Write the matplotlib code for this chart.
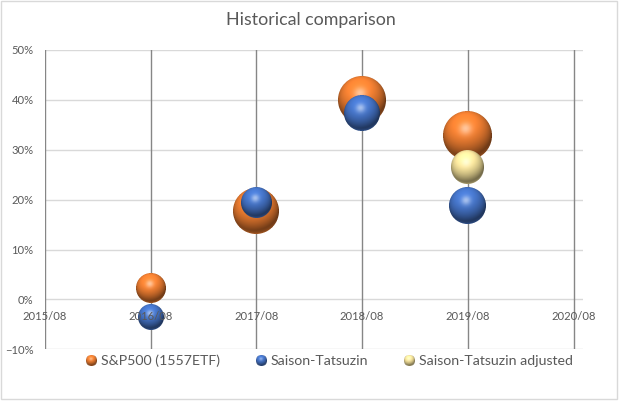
import numpy as np
import pandas as pd
import matplotlib
matplotlib.use('Agg')
import matplotlib.pyplot as plt
import matplotlib.dates as mdates
from matplotlib.colors import to_rgb
from matplotlib.offsetbox import OffsetImage, AnnotationBbox
from matplotlib.legend_handler import HandlerBase
from matplotlib.image import BboxImage
from matplotlib.transforms import Bbox, TransformedBbox
from matplotlib.lines import Line2D
from matplotlib.patches import Rectangle
from matplotlib.ticker import PercentFormatter

plt.rcParams['font.family'] = ['Lato', 'DejaVu Sans']

# data
dates = ['2016-08-01', '2017-08-01', '2018-08-01', '2019-08-01']
sp500 = [2.2, 17.8, 39.9, 32.9]          # % return
sp500_size = [230, 540, 580, 600]        # bubble size
saison = [-3.5, 19.5, 37.4, 18.8]
saison_size = [170, 237, 320, 350]
adj_dates = ['2019-08-01']
saison_adj = [26.4]
saison_adj_size = [279]

tick_dates = ['2015-08-01', '2016-08-01', '2017-08-01', '2018-08-01', '2019-08-01', '2020-08-01']
y_ticks = [-10, 0, 10, 20, 30, 40, 50]

series = [
    ('S&P500 (1557ETF)', dates, sp500, sp500_size, '#ED7D31'),
    ('Saison-Tatsuzin', dates, saison, saison_size, '#4472C4'),
    ('Saison-Tatsuzin adjusted', adj_dates, saison_adj, saison_adj_size, '#F4E19A'),
]


def sphere(diam, color, ss=4):
    n = max(int(round(diam)), 2)
    N = n * ss
    yy, xx = np.mgrid[0:N, 0:N]
    x = (xx + 0.5) / N * 2 - 1
    y = 1 - (yy + 0.5) / N * 2
    d2 = x**2 + y**2
    inside = (d2 <= 1).astype(float)
    z = np.sqrt(np.clip(1 - d2, 0, 1))
    L = np.array([-0.15, 0.55, 0.82])
    L = L / np.linalg.norm(L)
    diff = np.clip(x * L[0] + y * L[1] + z * L[2], 0, 1)
    H = L + np.array([0, 0, 1.0])
    H = H / np.linalg.norm(H)
    spec = np.clip(x * H[0] + y * H[1] + z * H[2], 0, 1) ** 30
    base = np.array(to_rgb(color))
    rgb = base[None, None, :] * (0.45 + 0.7 * diff)[..., None]
    rgb = rgb + (1 - rgb) * (0.5 * spec)[..., None]
    rim = np.clip(-y, 0, 1) ** 2 * (1 - z) ** 2
    rgb = rgb + (base * 1.05 - rgb) * (0.6 * rim)[..., None]
    rgb = np.clip(rgb, 0, 1)
    rgba = np.dstack([rgb * inside[..., None], inside])
    rgba = rgba.reshape(n, ss, n, ss, 4).mean(axis=(1, 3))
    a = rgba[..., 3:4]
    rgb = np.where(a > 0, rgba[..., :3] / np.maximum(a, 1e-6), 0)
    return np.dstack([np.clip(rgb, 0, 1), a])


class SphereHandler(HandlerBase):
    def __init__(self, color, diam_pt):
        super().__init__()
        self.color = color
        self.diam_pt = diam_pt

    def create_artists(self, legend, orig_handle, xdescent, ydescent,
                       width, height, fontsize, trans):
        cx = width / 2 - xdescent
        cy = height / 2 - ydescent
        d = self.diam_pt
        bb = TransformedBbox(Bbox.from_bounds(cx - d / 2, cy - d / 2, d, d), trans)
        im = BboxImage(bb, interpolation='antialiased')
        im.set_data(sphere(d / 0.72, self.color))
        return [im]


fig = plt.figure(figsize=(6.25, 4.11), dpi=100)
ax = fig.add_axes([44.7 / 625, 1 - 349.3 / 411, (582.7 - 44.7) / 625, (349.3 - 50) / 411])

tick_nums = mdates.date2num(pd.to_datetime(tick_dates))
ax.set_xlim(tick_nums[0], mdates.date2num(pd.Timestamp('2020-09-01')))
ax.set_ylim(-10, 50)

for yv in y_ticks:
    ax.axhline(yv, color='#d9d9d9', lw=1, zorder=1)
for xv in tick_nums:
    ax.axvline(xv, color='#868686', lw=1, zorder=1.1)

for name, ds, vals, sizes, col in series:
    xs = mdates.date2num(pd.to_datetime(ds))
    for xv, yv, s in zip(xs, vals, sizes):
        img = sphere(np.sqrt(s) * 2, col)
        ab = AnnotationBbox(OffsetImage(img, zoom=1, dpi_cor=False), (xv, yv),
                            frameon=False, pad=0, zorder=2)
        ax.add_artist(ab)

ax.set_xticks(tick_nums)
ax.set_xticklabels([pd.Timestamp(t).strftime('%Y/%m') for t in tick_dates])
ax.set_yticks(y_ticks)
ax.yaxis.set_major_formatter(PercentFormatter(decimals=0))
for s in ax.spines.values():
    s.set_visible(False)
ax.spines['bottom'].set_position(('data', 0))
ax.tick_params(axis='both', length=0, labelsize=8.1, labelcolor='#595959')
ax.tick_params(axis='x', pad=8)
ax.tick_params(axis='y', pad=8)
ax.xaxis.set_zorder(5)
ax.yaxis.set_zorder(5)
ax.patch.set_alpha(0)

fig.text(0.497, 1 - 20 / 411, 'Historical comparison', ha='center', va='center',
         fontsize=12.8, color='#595959')

handles = []
hmap = {}
for name, ds, vals, sizes, col in series:
    h = Line2D([], [], label=name)
    handles.append(h)
    hmap[h] = SphereHandler(col, 7.5)
fig.legend(handles=handles, loc='center', bbox_to_anchor=(0.527, 1 - 361 / 411),
           ncol=3, frameon=False, handler_map=hmap, handlelength=0.8,
           handletextpad=0.3, columnspacing=2.5, fontsize=10.2, labelcolor='#595959')

fig.add_artist(Rectangle((1 / 625, 12 / 411), 616 / 625, 398 / 411,
                         transform=fig.transFigure, fill=False,
                         edgecolor='#d9d9d9', lw=1))

fig.savefig('out.png', dpi=100)
